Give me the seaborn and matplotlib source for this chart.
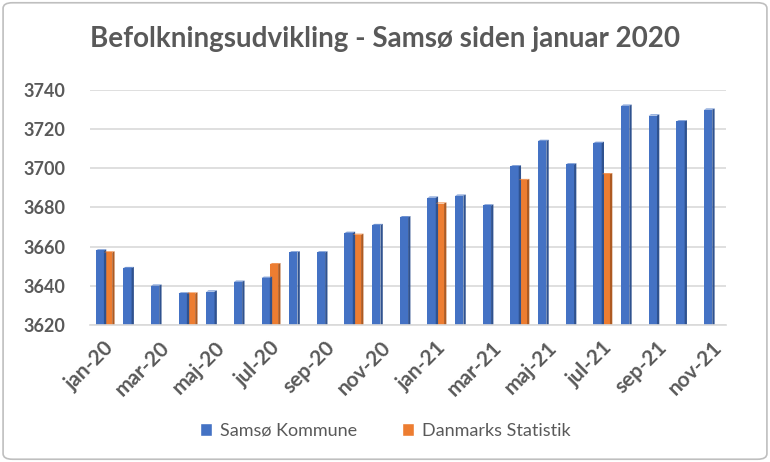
import matplotlib
matplotlib.use("Agg")
import matplotlib.pyplot as plt
import seaborn as sns
import numpy as np
import pandas as pd
from matplotlib.patches import FancyBboxPatch, Patch, Polygon

# Months shown on the x axis
months = ["jan-20", "feb-20", "mar-20", "apr-20", "maj-20", "jun-20", "jul-20", "aug-20",
          "sep-20", "okt-20", "nov-20", "dec-20", "jan-21", "feb-21", "mar-21", "apr-21",
          "maj-21", "jun-21", "jul-21", "aug-21", "sep-21", "okt-21", "nov-21"]

# Samsø Kommune, monthly
samsoe = [3658, 3649, 3640, 3636, 3637, 3642, 3644, 3657, 3657, 3667, 3671, 3675,
          3685, 3686, 3681, 3701, 3714, 3702, 3713, 3732, 3727, 3724, 3730]

# Danmarks Statistik, quarterly
dst_months = ["jan-20", "apr-20", "jul-20", "okt-20", "jan-21", "apr-21", "jul-21"]
dst_values = [3657, 3636, 3651, 3666, 3682, 3694, 3697]

series_names = ["Samsø Kommune", "Danmarks Statistik"]
colors = ["#4472C4", "#ED7D31"]
shade = {"#4472C4": "#2F528F", "#ED7D31": "#AE5A21"}

dst_map = dict(zip(dst_months, dst_values))
df = pd.DataFrame({
    "month": months * 2,
    "series": [series_names[0]] * len(months) + [series_names[1]] * len(months),
    "value": samsoe + [dst_map.get(m, np.nan) for m in months],
})

sns.set_style("white")
plt.rcParams["font.family"] = ["Lato", "DejaVu Sans"]
text_col = "#595959"

fig = plt.figure(figsize=(7.7, 4.62), dpi=100)
ax = fig.add_axes([0.117, 0.297, 0.826, 0.508])

sns.barplot(data=df, x="month", y="value", hue="series", order=months,
            hue_order=series_names, palette=colors, saturation=1, width=0.6,
            dodge=True, edgecolor="none", legend=False, ax=ax)

ax.set_ylim(3620, 3740)

# small darker side on each bar for the 3D look
for bar in list(ax.patches):
    h = bar.get_height()
    if not np.isfinite(h) or h == 0:
        continue
    x0, w, y0 = bar.get_x(), bar.get_width(), bar.get_y()
    col = matplotlib.colors.to_hex(bar.get_facecolor()).upper()
    d = w * 0.28
    side = Polygon([(x0 + w, y0), (x0 + w + d, y0 + 0.6), (x0 + w + d, y0 + h + 0.6), (x0 + w, y0 + h)],
                   closed=True, facecolor=shade.get(col, "#333333"), edgecolor="none", zorder=bar.get_zorder())
    top = Polygon([(x0, y0 + h), (x0 + d, y0 + h + 0.6), (x0 + w + d, y0 + h + 0.6), (x0 + w, y0 + h)],
                  closed=True, facecolor=col, edgecolor="none", alpha=0.8, zorder=bar.get_zorder())
    ax.add_patch(side)
    ax.add_patch(top)

ax.set_yticks(np.arange(3620, 3741, 20))
ax.set_xlim(-0.5, len(months) - 0.5)
ax.grid(axis="y", color="#D9D9D9", linewidth=1.2)
ax.set_axisbelow(True)
for s in ["top", "right", "left"]:
    ax.spines[s].set_visible(False)
ax.spines["bottom"].set_color("#D9D9D9")
ax.spines["bottom"].set_linewidth(1.2)

ax.set_xticks(range(0, len(months), 2))
ax.set_xticklabels(months[::2], rotation=45, ha="right", rotation_mode="anchor",
                   fontsize=15, fontweight="bold", color=text_col)
ax.tick_params(axis="x", length=0, pad=9)
ax.tick_params(axis="y", length=0, pad=18, labelsize=13, labelcolor=text_col)
for lab in ax.get_yticklabels():
    lab.set_fontweight("bold")
ax.set_xlabel("")
ax.set_ylabel("")

fig.text(0.5, 0.915, "Befolkningsudvikling - Samsø siden januar 2020", ha="center",
         va="center", fontsize=20, fontweight="bold", color=text_col)

handles = [Patch(facecolor=c, label=n) for c, n in zip(colors, series_names)]
fig.legend(handles=handles, loc="center", bbox_to_anchor=(0.5, 0.068), ncol=2,
           frameon=False, fontsize=13, handlelength=0.7, handleheight=0.7,
           columnspacing=2.5, handletextpad=0.4, labelcolor=text_col)

border = FancyBboxPatch((0.004, 0.006), 0.992, 0.988, boxstyle="round,pad=0,rounding_size=0.012",
                        transform=fig.transFigure, fill=False, edgecolor="#BFBFBF", linewidth=1.2)
fig.patches.append(border)

fig.savefig("out.png", dpi=100)
